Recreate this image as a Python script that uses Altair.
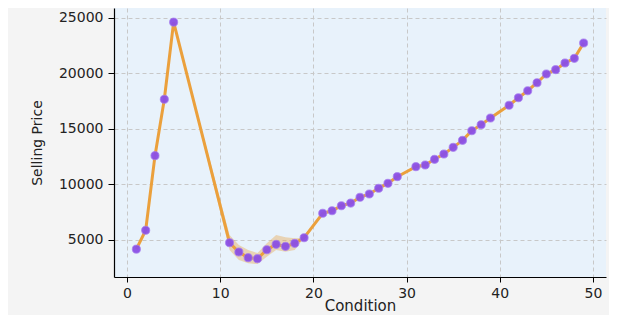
import altair as alt
import pandas as pd

# Data
condition = [1, 2, 3, 4, 5,
             11, 12, 13, 14, 15, 16, 17, 18, 19,
             21, 22, 23, 24, 25, 26, 27, 28, 29,
             31, 32, 33, 34, 35, 36, 37, 38, 39,
             41, 42, 43, 44, 45, 46, 47, 48, 49]
price = [4150, 5850, 12570, 17650, 24600,
         4730, 3890, 3380, 3290, 4100, 4580, 4400, 4670, 5180,
         7380, 7610, 8060, 8300, 8820, 9120, 9630, 10080, 10680,
         11580, 11730, 12240, 12720, 13320, 13950, 14820, 15360, 15960,
         17110, 17790, 18420, 19140, 19930, 20320, 20920, 21340, 22720]

# confidence band where several observations exist
ci_cond = [11, 12, 13, 14, 15, 16, 17, 18]
ci_lo = [4070, 3170, 2870, 2810, 3470, 4070, 3920, 4070]
ci_hi = [5420, 4520, 4070, 3800, 4670, 5420, 5220, 5130]

x_ticks = [0, 10, 20, 30, 40, 50]
y_ticks = [5000, 10000, 15000, 20000, 25000]

lo_map = dict(zip(ci_cond, ci_lo))
hi_map = dict(zip(ci_cond, ci_hi))
df = pd.DataFrame({"Condition": condition, "Price": price})
df["lo"] = [lo_map.get(c, p) for c, p in zip(condition, price)]
df["hi"] = [hi_map.get(c, p) for c, p in zip(condition, price)]

xs = alt.Scale(domain=[-1.4, 51.4], nice=False, zero=False)
ys = alt.Scale(domain=[1640, 25874], nice=False, zero=False)

xax = alt.Axis(values=x_ticks, title="Condition", format="d")
yax = alt.Axis(values=y_ticks, title="Selling Price", format="d")

base = alt.Chart(df)

band = base.mark_area(color="#E9A54A", opacity=0.4).encode(
    x=alt.X("Condition:Q", scale=xs, axis=xax),
    y=alt.Y("lo:Q", scale=ys, axis=yax),
    y2="hi:Q",
)

line = base.mark_line(color="#EBA03C", strokeWidth=3).encode(
    x=alt.X("Condition:Q", scale=xs),
    y=alt.Y("Price:Q", scale=ys),
)

pts = base.mark_circle(size=66, color="#8B4FE6", opacity=0.95,
                       stroke="#A57BEE", strokeWidth=0.8).encode(
    x=alt.X("Condition:Q", scale=xs),
    y=alt.Y("Price:Q", scale=ys),
)

chart = alt.layer(band, line, pts).properties(
    width=492,
    height=269,
    background="#f4f4f4",
    padding={"left": 106, "top": 0, "right": 3, "bottom": 38},
    autosize=alt.AutoSizeParams(type="none"),
).configure_view(
    fill="#e8f2fb", stroke=None
).configure_axis(
    domainColor="#000000",
    domainWidth=1.2,
    tickColor="#000000",
    gridColor="#c8c8c8",
    gridDash=[4, 3],
    gridWidth=1,
    labelFont="DejaVu Sans",
    labelFontSize=14,
    labelColor="#222222",
    titleFont="DejaVu Sans",
    titleFontWeight="normal",
    titleColor="#222222",
).configure_axisX(
    tickSize=5,
    labelPadding=4,
    titleFontSize=15,
    titlePadding=-2,
).configure_axisY(
    tickSize=6,
    labelPadding=5,
    titleFontSize=14,
    titlePadding=14,
)

chart.save("out.html", embed_options={"renderer": "svg", "actions": False})
